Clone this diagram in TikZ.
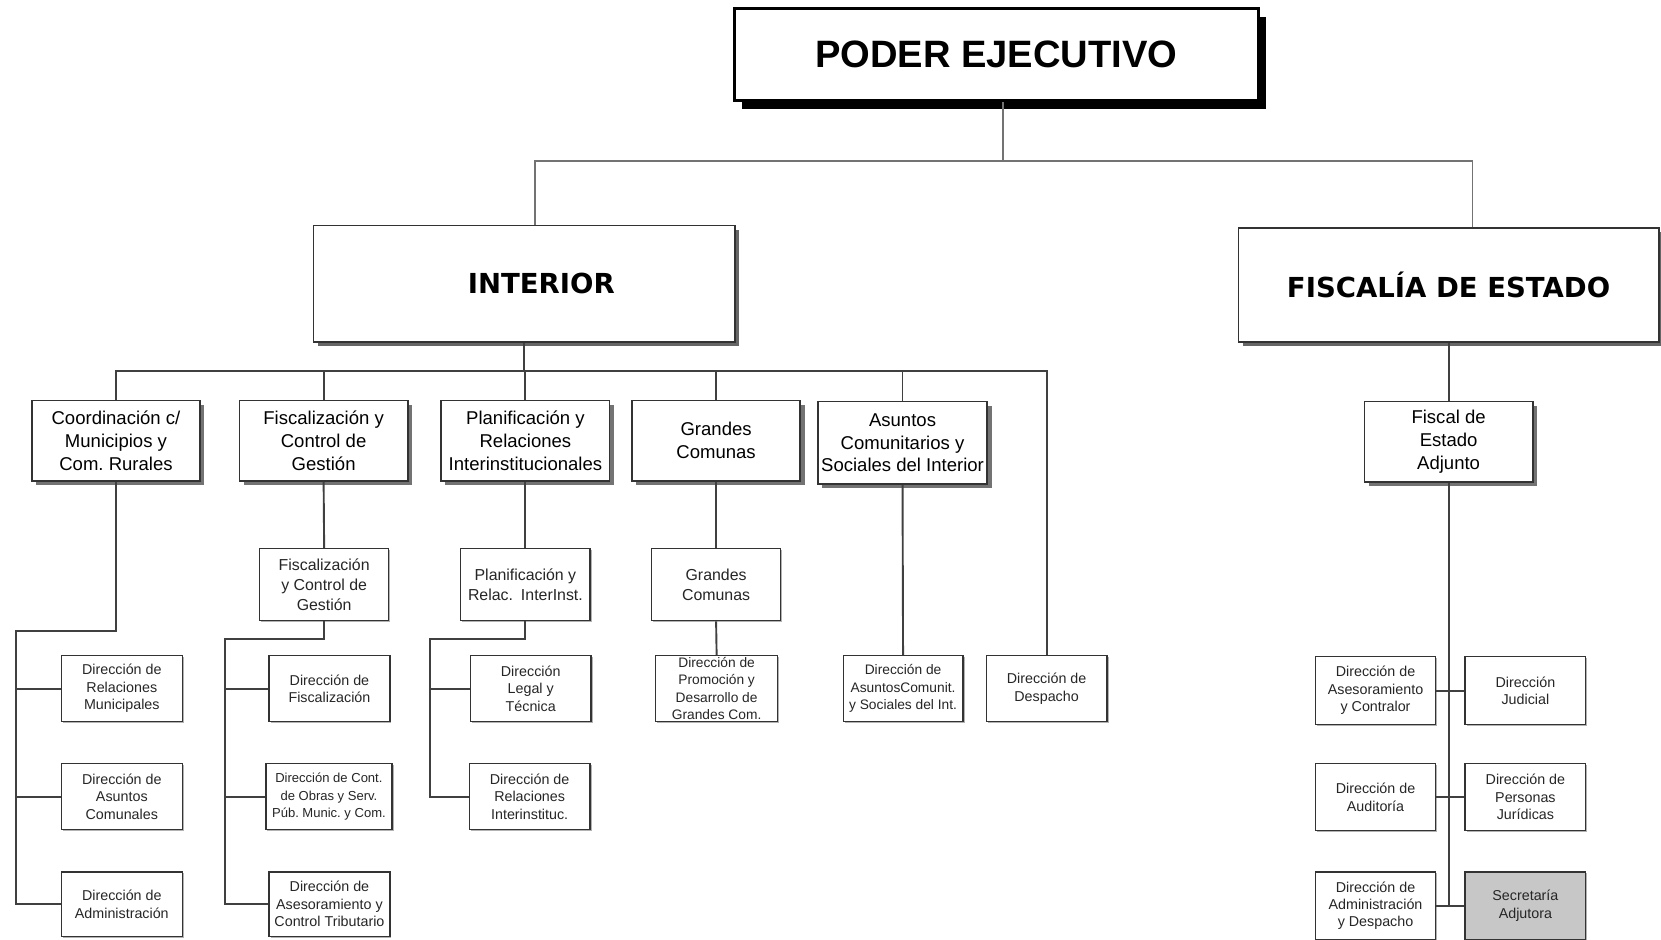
\documentclass[tikz,border=0pt]{standalone}
\usepackage{fontspec}
\setmainfont{Liberation Sans}
\newfontfamily\heavyfont{DejaVu Sans}
\usetikzlibrary{shadows}
\frenchspacing

\tikzset{
  conn/.style={draw=black!75, line width=1.8pt},
  topconn/.style={draw=black!55, line width=1.4pt},
  topbox/.style={draw=black, line width=3pt, fill=white, inner sep=0pt,
    minimum width=495pt, minimum height=87pt,
    drop shadow={shadow xshift=7pt, shadow yshift=-8pt, fill=black, opacity=1},
    font=\bfseries\fontsize{36}{40}\selectfont},
  headbox/.style={draw=black!80, line width=1.6pt, fill=white, inner sep=0pt,
    minimum width=398pt, minimum height=110pt,
    drop shadow={shadow xshift=4pt, shadow yshift=-4pt, fill=black!60, opacity=1},
    font=\heavyfont\bfseries\fontsize{26}{30}\selectfont},
  unitbox/.style={draw=black!80, line width=1.6pt, fill=white, inner sep=0pt,
    minimum width=159pt, minimum height=76pt, align=center,
    drop shadow={shadow xshift=4pt, shadow yshift=-4pt, fill=black!55, opacity=1},
    font=\fontsize{17.5}{21.5}\selectfont},
  subbox/.style={draw=black!80, line width=1.3pt, fill=white, inner sep=0pt,
    minimum width=122pt, minimum height=68pt, align=center, text=black!85,
    drop shadow={shadow xshift=1.5pt, shadow yshift=-1.5pt, fill=black!30, opacity=1},
    font=\fontsize{15}{18.5}\selectfont},
  dirbox/.style={draw=black!80, line width=1.3pt, fill=white, inner sep=0pt,
    minimum width=114pt, minimum height=62pt, align=center, text=black!85,
    drop shadow={shadow xshift=1.5pt, shadow yshift=-1.5pt, fill=black!30, opacity=1},
    font=\fontsize{13.5}{16.5}\selectfont},
}

\begin{document}
\begin{tikzpicture}[x=1pt, y=-1pt]
\useasboundingbox (0,0) rectangle (1568,887);

% top level
\node[topbox] (top) at (940.5,51.5) {PODER EJECUTIVO};
\node[headbox] (int) at (495,268) {\hspace*{32pt}INTERIOR};
\node[headbox, minimum width=397pt, minimum height=108pt] (fis) at (1367.5,269) {FISCALÍA DE ESTADO};

% units under Interior
\node[unitbox] (c1) at (109.5,416) {Coordinación c/\\Municipios y\\Com. Rurales};
\node[unitbox] (c2) at (305.5,416) {Fiscalización y\\Control de\\Gestión};
\node[unitbox] (c3) at (496,416) {Planificación y\\Relaciones\\Interinstitucionales};
\node[unitbox] (c4) at (676,416) {Grandes\\Comunas};
\node[unitbox, minimum width=160pt, minimum height=78pt] (c5) at (852,418) {Asuntos\\Comunitarios y\\Sociales del Interior};
\node[unitbox] (fa) at (1367.5,417) {Fiscal de\\Estado\\Adjunto};

% second-level units
\node[subbox] (s2) at (306,552) {Fiscalización\\y Control de\\Gestión};
\node[subbox] (s3) at (496,552) {Planificación y\\Relac.\enspace InterInst.};
\node[subbox] (s4) at (676,552) {Grandes\\Comunas};

% directorates, Interior
\node[dirbox] (d11) at (115,650) {Dirección de\\Relaciones\\Municipales};
\node[dirbox] (d12) at (115,752) {Dirección de\\Asuntos\\Comunales};
\node[dirbox, minimum height=61pt] (d13) at (115,853.5) {Dirección de\\Administración};
\node[dirbox] (d21) at (311,650) {Dirección de\\Fiscalización};
\node[dirbox, minimum width=119pt, font=\fontsize{12.3}{16.5}\selectfont] (d22) at (310.5,752) {Dirección de Cont.\\de Obras y Serv.\\Púb. Munic. y Com.};
\node[dirbox, minimum height=61pt] (d23) at (311,853.5) {Dirección de\\Asesoramiento y\\Control Tributario};
\node[dirbox] (d31) at (501,650) {Dirección\\Legal y\\Técnica};
\node[dirbox] (d32) at (500,752) {Dirección de\\Relaciones\\Interinstituc.};
\node[dirbox, minimum width=115pt, font=\fontsize{13}{16.3}\selectfont] (d41) at (676.5,650) {Dirección de\\Promoción y\\Desarrollo de\\Grandes Com.};
\node[dirbox, minimum width=113pt, font=\fontsize{13}{16.5}\selectfont] (d51) at (852.5,650) {Dirección de\\AsuntosComunit.\\y Sociales del Int.};
\node[dirbox] (d61) at (988,650) {Dirección de\\Despacho};

% directorates, Fiscalía
\node[dirbox, minimum width=113pt, minimum height=64pt] (f11) at (1298.5,652) {Dirección de\\Asesoramiento\\y Contralor};
\node[dirbox, minimum height=64pt] (f12) at (1440,652) {Dirección\\Judicial};
\node[dirbox, minimum width=113pt, minimum height=63pt] (f21) at (1298.5,752.5) {Dirección de\\Auditoría};
\node[dirbox, minimum height=63pt] (f22) at (1440,752.5) {Dirección de\\Personas\\Jurídicas};
\node[dirbox, minimum width=113pt, minimum height=64pt] (f31) at (1298.5,855) {Dirección de\\Administración\\y Despacho};
\node[dirbox, minimum height=64pt, fill=black!22] (f32) at (1440,855) {Secretaría\\Adjutora};

% bus points
\coordinate (tb) at (947,152);
\coordinate (xl) at (505,152);
\coordinate (xr) at (1390,152);
\coordinate (ibus) at (495,350);
\coordinate (k1) at (15,596);
\coordinate (k2) at (212,603);
\coordinate (k3) at (406,603);
\coordinate (ft) at (1368,0);

% top level connectors
\draw[topconn] (top.south -| tb) -- (tb);
\draw[topconn] (int.north -| xl) -- (xl) -- (xr) -- (fis.north -| xr);

% Interior bus
\draw[conn] (int.south) -- (ibus);
\foreach \n in {c1,c2,c3,c4,c5,d61}
  \draw[conn] (\n.north) |- (ibus);

% Coordinación branch
\draw[conn] (c1.south) |- (k1) -- (k1 |- d13.west) -- (d13.west);
\draw[conn] (k1 |- d11.west) -- (d11.west);
\draw[conn] (k1 |- d12.west) -- (d12.west);

% Fiscalización branch
\draw[conn] (c2.south) -- (s2.north);
\draw[conn] (s2.south) |- (k2) -- (k2 |- d23.west) -- (d23.west);
\draw[conn] (k2 |- d21.west) -- (d21.west);
\draw[conn] (k2 |- d22.west) -- (d22.west);

% Planificación branch
\draw[conn] (c3.south) -- (s3.north);
\draw[conn] (s3.south) |- (k3) -- (k3 |- d32.west) -- (d32.west);
\draw[conn] (k3 |- d31.west) -- (d31.west);

% Grandes Comunas and Asuntos branches
\draw[conn] (c4.south) -- (s4.north);
\draw[conn] (s4.south) -- (d41.north);
\draw[conn] (c5.south) -- (d51.north);

% Fiscalía branch
\draw[conn] (fis.south -| ft) -- (fa.north -| ft);
\draw[conn] (fa.south -| ft) -- (f31.east -| ft);
\draw[conn] (f11.east) -- (f12.west);
\draw[conn] (f21.east) -- (f22.west);
\draw[conn] (f31.east) -- (f32.west);
\end{tikzpicture}
\end{document}
